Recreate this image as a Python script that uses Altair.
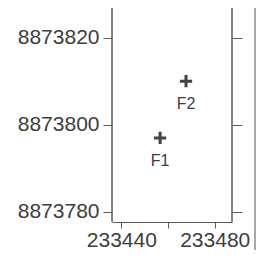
import altair as alt
import pandas as pd

names = ["F1", "F2"]
easting = [233456.6, 233467.7]
northing = [8873797.0, 8873810.0]

x_ticks = [233440, 233460, 233480]
y_ticks = [8873780, 8873800, 8873820]

df = pd.DataFrame({"name": names, "x": easting, "y": northing})

TXT = "#3d3d3d"
LINE = "#5a5a5a"
FONT = "Liberation Sans"

xs = alt.Scale(domain=[233436.0, 233487.4], nice=False, zero=False)
ys = alt.Scale(domain=[8873777.7, 8873826.8], nice=False, zero=False)

x_axis = alt.Axis(values=x_ticks, format="d", grid=False,
                  labelExpr="datum.value == 233460 ? '' : datum.label",
                  tickSize=6, labelPadding=1, labelFontSize=21,
                  labelFont=FONT, labelColor=TXT, tickColor=LINE,
                  domainColor=LINE, labelFlush=False)

base = alt.Chart(df)

pts = base.mark_point(
    shape="M-1,0H1M0,-1V1", size=150, filled=False, strokeWidth=3,
    color="#444444", opacity=1
).encode(
    x=alt.X("x:Q", scale=xs, title=None, axis=x_axis),
    y=alt.Y("y:Q", scale=ys, title=None,
            axis=alt.Axis(values=y_ticks, format="d", grid=False,
                          tickSize=9, labelPadding=4, labelFontSize=21,
                          labelFont=FONT, labelColor=TXT, tickColor=LINE,
                          domain=False)),
)

labels = base.mark_text(
    dy=23, fontSize=16, font=FONT, color=TXT, baseline="middle"
).encode(
    x=alt.X("x:Q", scale=xs, title=None, axis=x_axis),
    y=alt.Y("y:Q", scale=ys, axis=None),
    text="name:N",
)

right_axis = base.mark_point(opacity=0).encode(
    y=alt.Y("y:Q", scale=ys, title=None,
            axis=alt.Axis(orient="right", values=y_ticks, labels=False,
                          grid=False, tickSize=10, tickColor=LINE,
                          domain=False)),
)

left_border = base.mark_rule(color=LINE, strokeWidth=1).encode(
    x=alt.value(0), y=alt.value(0), y2=alt.value(214))
right_border = base.mark_rule(color=LINE, strokeWidth=1).encode(
    x=alt.value(120), y=alt.value(0), y2=alt.value(214))
far_line = base.mark_rule(color="#8a8a8a", strokeWidth=1).encode(
    x=alt.value(143), y=alt.value(0), y2=alt.value(242))

chart = alt.layer(
    left_border, right_border, far_line, pts, labels, right_axis
).resolve_axis(y="independent").properties(
    width=120, height=214,
    autosize=alt.AutoSizeParams(type="none"),
    padding={"left": 104, "top": 0, "right": 24, "bottom": 28},
).configure_view(stroke=None).configure_axis(labelFont=FONT)

chart.save("out.html", embed_options={"renderer": "svg", "actions": False})
